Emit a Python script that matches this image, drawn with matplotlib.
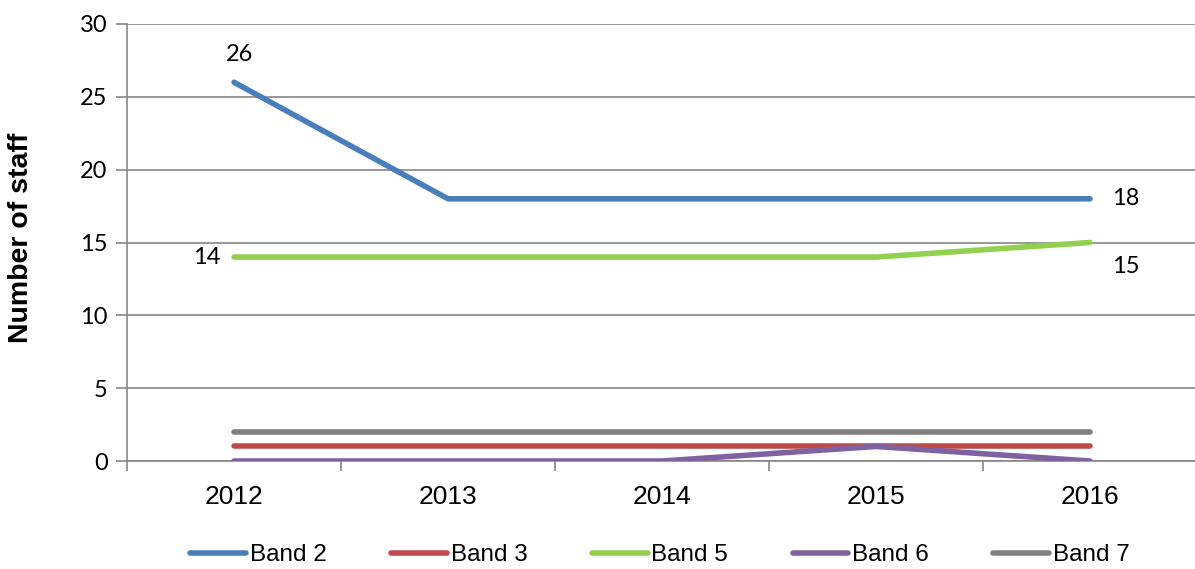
import matplotlib
matplotlib.use("Agg")
import matplotlib.pyplot as plt
from matplotlib.lines import Line2D

years = ["2012", "2013", "2014", "2015", "2016"]
band2 = [26, 18, 18, 18, 18]
band3 = [1, 1, 1, 1, 1]
band5 = [14, 14, 14, 14, 15]
band6 = [0, 0, 0, 1, 0]
band7 = [2, 2, 2, 2, 2]
series_names = ["Band 2", "Band 3", "Band 5", "Band 6", "Band 7"]
y_ticks = [0, 5, 10, 15, 20, 25, 30]

colors = ["#4A7EBB", "#BE4B48", "#92D050", "#7F62A1", "#7F7F7F"]
narrow = ["Liberation Sans Narrow", "Liberation Sans", "DejaVu Sans"]
calib = ["Lato", "DejaVu Sans"]

fig = plt.figure(figsize=(11.95, 5.69), dpi=100)
ax = fig.add_axes([127 / 1195, 1 - 461 / 569, 1070 / 1195, 437 / 569])

x = list(range(len(years)))
all_series = [band2, band3, band5, band6, band7]
for vals, c in zip(all_series, colors):
    ax.plot(x, vals, color=c, lw=4.0, solid_capstyle="round",
            solid_joinstyle="round", zorder=3)

ax.set_xlim(-0.5, len(years) - 0.5)
ax.set_ylim(0, 30)
ax.set_yticks(y_ticks)
ax.set_yticklabels([str(v) for v in y_ticks], family=calib, fontsize=17)
ax.set_xticks(x)
ax.set_xticklabels(years, family=narrow, fontsize=19)
ax.set_xticks([i - 0.5 for i in range(len(years) + 1)], minor=True)
ax.tick_params(axis="x", which="major", length=0, pad=17)
ax.tick_params(axis="x", which="minor", length=7, color="#868686", width=1.2,
               direction="out")
ax.tick_params(axis="y", length=8, color="#868686", width=1.2, pad=6)

ax.grid(axis="y", color="#868686", lw=1.2, zorder=1)
for side in ["top", "right"]:
    ax.spines[side].set_visible(False)
for side in ["left", "bottom"]:
    ax.spines[side].set_color("#868686")
    ax.spines[side].set_linewidth(1.2)

ax.set_ylabel("Number of staff", family=["Liberation Sans", "DejaVu Sans"],
              fontsize=20.5, fontweight="bold")
ax.yaxis.set_label_coords(-0.087, 0.51)

lab = dict(family=calib, fontsize=17, color="black")
ax.annotate(str(band2[0]), (x[0], band2[0]), xytext=(4, 20),
            textcoords="offset points", ha="center", va="center", **lab)
ax.annotate(str(band2[-1]), (x[-1], band2[-1]), xytext=(26, 0),
            textcoords="offset points", ha="center", va="center", **lab)
ax.annotate(str(band5[0]), (x[0], band5[0]), xytext=(-20, 0),
            textcoords="offset points", ha="center", va="center", **lab)
ax.annotate(str(band5[-1]), (x[-1], band5[-1]), xytext=(26, -17),
            textcoords="offset points", ha="center", va="center", **lab)

handles = [Line2D([0], [0], color=c, lw=4.0, solid_capstyle="round")
           for c in colors]
leg = fig.legend(handles, series_names, loc="center", ncol=5,
                 bbox_to_anchor=(0.5523, 1 - 555 / 569), frameon=False,
                 prop={"family": narrow, "size": 17.5}, handlelength=2.3,
                 handletextpad=0.15, columnspacing=2.65)

fig.savefig("out.png", dpi=100)
